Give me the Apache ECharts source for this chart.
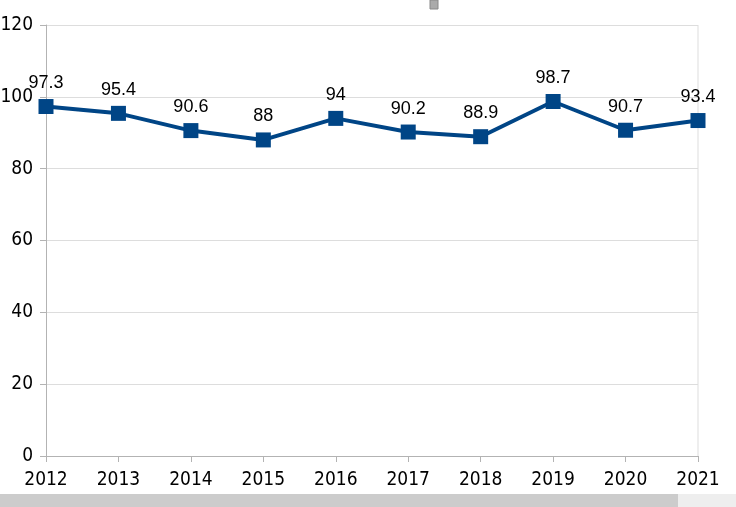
<!DOCTYPE html>
<html><head><meta charset="utf-8">
<script src="https://cdn.jsdelivr.net/npm/echarts@6/dist/echarts.min.js"></script>
<style>html,body{margin:0;padding:0;background:#fff}#c{width:736px;height:507px}</style>
</head><body><div id="c"></div>
<script>
const categories = ['2012','2013','2014','2015','2016','2017','2018','2019','2020','2021'];
const values = [97.3, 95.4, 90.6, 88, 94, 90.2, 88.9, 98.7, 90.7, 93.4];
const yTicks = {min: 0, max: 120, interval: 20};

const axisFont = '"Liberation Sans Narrow", "DejaVu Sans Condensed", "Liberation Sans", sans-serif';
const chart = echarts.init(document.getElementById('c'));
chart.setOption({
  animation: false,
  grid: {left: 46, right: 38, top: 25, bottom: 51, containLabel: false, outerBoundsMode: 'none'},
  xAxis: {
    type: 'category', data: categories, boundaryGap: false,
    axisLine: {lineStyle: {color: '#b3b3b3'}},
    axisTick: {show: true, length: 6, lineStyle: {color: '#b3b3b3'}},
    axisLabel: {color: '#000', fontFamily: axisFont, fontSize: 19, margin: 15},
    splitLine: {show: false}
  },
  yAxis: {
    type: 'value', min: yTicks.min, max: yTicks.max, interval: yTicks.interval,
    axisLine: {show: true, lineStyle: {color: '#b3b3b3'}},
    axisTick: {show: true, length: 6, lineStyle: {color: '#b3b3b3'}},
    axisLabel: {color: '#000', fontFamily: axisFont, fontSize: 19, margin: 13},
    splitLine: {lineStyle: {color: '#dddddd'}}
  },
  graphic: [
    {type: 'line', shape: {x1: 698, y1: 25, x2: 698, y2: 456}, style: {stroke: '#dddddd', lineWidth: 1}},
    {type: 'rect', shape: {x: 0, y: 494, width: 678, height: 13}, style: {fill: '#cccccc'}},
    {type: 'rect', shape: {x: 678, y: 494, width: 58, height: 13}, style: {fill: '#eeeeee'}},
    {type: 'rect', shape: {x: 430, y: 0, width: 8, height: 9}, style: {fill: '#aaaaaa', stroke: '#888888', lineWidth: 1}}
  ],
  series: [{
    type: 'line', data: values,
    lineStyle: {color: '#004586', width: 4},
    itemStyle: {color: '#004586'},
    symbol: 'rect', symbolSize: 15,
    label: {show: true, position: 'top', distance: 7, color: '#000', fontFamily: 'Liberation Sans', fontSize: 18}
  }]
});
</script></body></html>
